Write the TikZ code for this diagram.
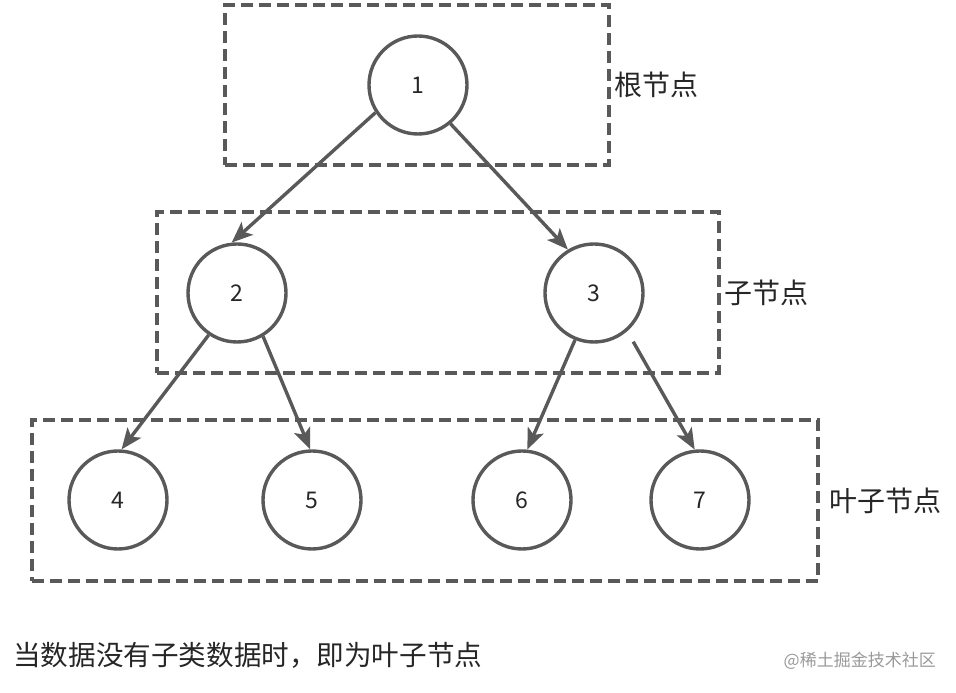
\documentclass[tikz,border=0pt]{standalone}
\usepackage{fontspec}
\setmainfont{Noto Sans CJK SC}
\usetikzlibrary{arrows.meta,positioning}
\definecolor{linegray}{HTML}{595959}

\begin{document}
\begin{tikzpicture}[x=1pt, y=1pt,
    leaf/.style={draw=linegray, circle, line width=3.4pt, minimum size=98pt, inner sep=0pt, font=\fontsize{23}{26}\selectfont, text=black!85},
    grp/.style={draw=linegray, dash pattern=on 12pt off 6pt, line width=3.4pt, inner sep=0pt},
    lbl/.style={font=\fontsize{28}{31}\selectfont, text=black!85, inner sep=0pt},
    arr/.style={-{Stealth[length=21pt, width=17pt, inset=5pt]}, line width=3.4pt, linegray},
]
\useasboundingbox (0,0) rectangle (956,693);

% groups
\node[grp, minimum width=384pt, minimum height=160pt] (rootbox) at (417,608) {};
\node[grp, minimum width=562pt, minimum height=161pt] (childbox) at (438,400.5) {};
\node[grp, minimum width=786pt, minimum height=161pt] (leafbox) at (425,192.5) {};

\node[lbl, right=4pt of rootbox] (rootlbl) {根节点};
\node[lbl, right=4pt of childbox] (childlbl) {子节点};
\node[lbl, right=10pt of leafbox] (leaflbl) {叶子节点};

% tree
\node[leaf] (n1) at (418,608) {1};
\node[leaf] (n2) at (237,400) {2};
\node[leaf] (n3) at (594,400) {3};
\node[leaf] (n4) at (118,193) {4};
\node[leaf] (n5) at (312,193) {5};
\node[leaf] (n6) at (522,193) {6};
\node[leaf] (n7) at (700,193) {7};

\draw[arr] (n1.213) -- (n2.96);
\draw[arr] (n1.-50) -- (n3.121);
\draw[arr] (n2.236) -- (n4.86);
\draw[arr] (n2.-59) -- (n5.92);
\draw[arr] (n3.248) -- (n6.84);
\draw[arr, shorten <=12pt] (n3.-49) -- (n7.96);

\node[lbl, anchor=west, font=\fontsize{27.6}{31}\selectfont] (note) at (13,38) {当数据没有子类数据时，即为叶子节点};
\node[anchor=east, inner sep=0pt, text=black!40, font=\fontsize{17}{20}\selectfont] (mark) at (936,32) {@稀土掘金技术社区};
\end{tikzpicture}
\end{document}
